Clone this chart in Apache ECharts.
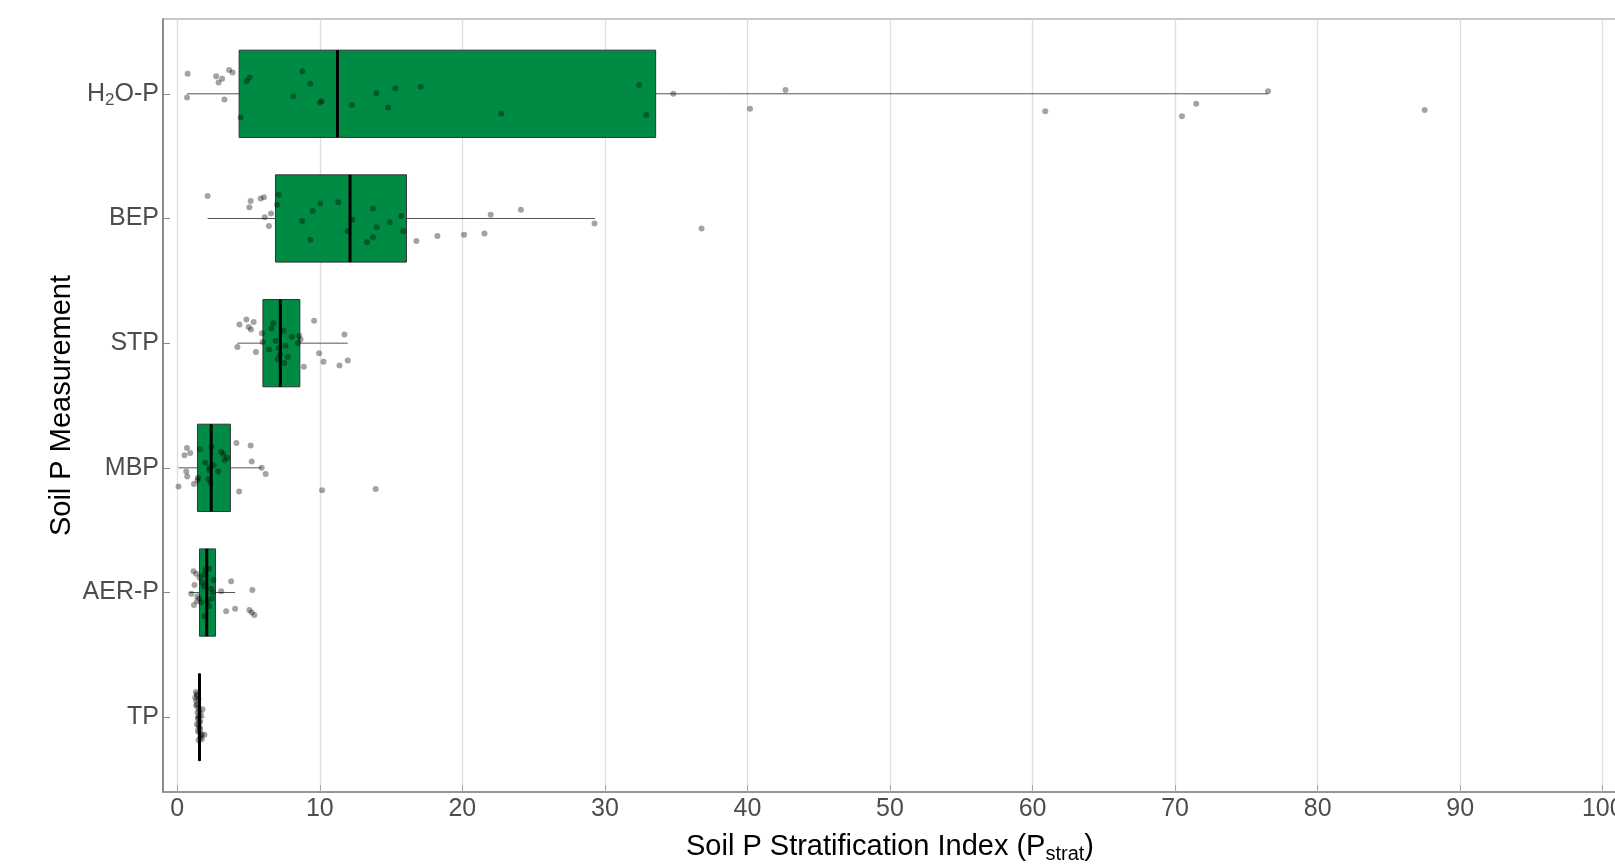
<!DOCTYPE html>
<html>
<head>
<meta charset="utf-8">
<script src="https://cdn.jsdelivr.net/npm/echarts@6/dist/echarts.min.js"></script>
<style>
  html, body { margin: 0; padding: 0; background: #fff; }
  #chart { width: 1615px; height: 867px; }
</style>
</head>
<body>
<div id="chart"></div>
<script>
// Soil P stratification index by measurement: boxplot + jittered points

var categories = ['H2O-P', 'BEP', 'STP', 'MBP', 'AER-P', 'TP'];
var xTicks = [0, 10, 20, 30, 40, 50, 60, 70, 80, 90, 100];

// [lower whisker, Q1, median, Q3, upper whisker]
var boxStats = [
    [0.69, 4.34, 11.24, 33.56, 76.52],
    [2.13, 6.89, 12.12, 16.08, 29.3],
    [4.22, 6.01, 7.23, 8.60, 11.96],
    [0.09, 1.42, 2.38, 3.73, 5.92],
    [0.86, 1.56, 2.07, 2.68, 4.06],
    [1.3, 1.53, 1.56, 1.59, 1.9]
];

// points: [value, vertical jitter]
var h2opPoints = [
    [0.73, -0.16], [0.69, 0.03], [2.73, -0.14], [2.9, -0.09], [3.15, -0.12],
    [3.64, -0.19], [3.88, -0.17], [3.31, 0.045], [4.44, 0.19], [4.86, -0.10],
    [5.08, -0.13], [8.78, -0.18], [9.33, -0.08], [8.15, 0.02], [10.0, 0.07],
    [10.14, 0.06], [12.24, 0.09], [13.97, -0.005], [15.3, -0.045], [14.8, 0.11],
    [17.08, -0.056], [22.73, 0.16], [32.4, -0.07], [32.9, 0.17], [34.8, 0.0],
    [42.67, -0.03], [40.18, 0.12], [60.89, 0.14], [70.48, 0.18], [71.48, 0.08],
    [76.52, -0.02], [87.51, 0.13]
];
var bepPoints = [
    [2.13, -0.18], [5.06, -0.09], [5.15, -0.14], [5.85, -0.16], [6.08, -0.17],
    [6.14, -0.01], [6.58, -0.04], [6.43, 0.06], [7.0, -0.11], [7.12, -0.19],
    [8.76, 0.02], [9.33, 0.17], [9.51, -0.06], [10.03, -0.12], [11.3, -0.13],
    [11.95, 0.10], [12.28, 0.01], [13.31, 0.19], [13.73, -0.08], [13.73, 0.15],
    [13.99, 0.07], [14.9, 0.03], [15.72, -0.02], [15.85, 0.10], [16.78, 0.18],
    [18.25, 0.14], [20.12, 0.13], [21.55, 0.12], [21.99, -0.03], [24.11, -0.07],
    [29.27, 0.04], [36.78, 0.08]
];
var stpPoints = [
    [4.22, 0.03], [4.36, -0.15], [4.85, -0.19], [5.01, -0.13], [5.17, -0.11],
    [5.36, -0.17], [5.52, 0.07], [5.94, -0.08], [5.99, -0.01], [6.43, 0.05],
    [6.6, -0.12], [6.74, -0.16], [6.9, -0.02], [7.02, 0.13], [7.11, 0.04],
    [7.2, 0.09], [7.46, -0.10], [7.5, 0.16], [7.58, 0.02], [7.76, 0.11],
    [8.04, -0.05], [8.46, 0.0], [8.56, -0.06], [8.65, -0.03], [8.88, 0.19],
    [9.6, -0.18], [9.95, 0.08], [10.26, 0.15], [11.38, 0.18], [11.73, -0.07],
    [11.96, 0.14]
];
var mbpPoints = [
    [0.09, 0.15], [0.68, -0.16], [0.51, -0.10], [0.91, -0.12], [0.63, 0.03],
    [0.70, 0.07], [1.17, 0.13], [1.45, 0.08], [1.42, 0.10], [1.59, -0.15],
    [1.96, -0.04], [2.19, 0.09], [2.26, 0.02], [2.33, 0.12], [2.40, -0.17],
    [2.54, -0.02], [2.26, 0.0], [2.87, 0.03], [3.08, -0.13], [3.22, -0.11],
    [3.33, -0.06], [3.5, -0.08], [4.15, -0.20], [4.34, 0.19], [5.15, -0.18],
    [5.22, -0.05], [5.92, 0.0], [6.2, 0.05], [10.16, 0.18], [13.92, 0.17]
];
var aerpPoints = [
    [1.14, -0.17], [1.33, -0.15], [1.21, -0.06], [0.98, 0.01], [1.40, 0.03],
    [1.54, 0.05], [1.17, 0.10], [1.38, 0.07], [1.68, 0.08], [1.56, -0.12],
    [1.73, -0.08], [1.87, -0.05], [1.98, -0.18], [2.22, -0.19], [2.10, 0.07],
    [2.22, 0.11], [1.91, 0.19], [2.38, -0.03], [2.42, 0.05], [2.54, -0.10],
    [2.50, 0.0], [3.08, -0.01], [3.43, 0.15], [3.78, -0.09], [4.06, 0.13],
    [5.06, 0.14], [5.27, -0.02], [5.22, 0.16], [5.41, 0.18], [1.84, -0.14]
];
var tpPoints = [
    [1.31, -0.203], [1.38, -0.184], [1.26, -0.157], [1.33, -0.131], [1.38, -0.104],
    [1.49, -0.077], [1.77, -0.064], [1.42, -0.037], [1.54, -0.011], [1.45, 0.016],
    [1.56, 0.043], [1.49, 0.069], [1.61, 0.096], [1.54, 0.123], [1.72, 0.136],
    [1.91, 0.141], [1.61, 0.163], [1.72, 0.176], [1.49, 0.184], [1.38, -0.171],
    [1.33, -0.091], [1.54, -0.051], [1.66, -0.024], [1.47, 0.003], [1.61, 0.029],
    [1.38, 0.056], [1.56, 0.083], [1.45, 0.109], [1.66, 0.149], [1.49, -0.144]
];
var pointGroups = [h2opPoints, bepPoints, stpPoints, mbpPoints, aerpPoints, tpPoints];

var boxHalf = 0.35;
var fontName = 'Liberation Sans';

var chart = echarts.init(document.getElementById('chart'));

function renderBox(params, api) {
    var cat = api.value(0);
    var lo = api.coord([api.value(1), cat]);
    var q1 = api.coord([api.value(2), cat]);
    var md = api.coord([api.value(3), cat]);
    var q3 = api.coord([api.value(4), cat]);
    var hi = api.coord([api.value(5), cat]);
    var half = api.size([0, boxHalf])[1];
    return {
        type: 'group',
        children: [
            { type: 'line', shape: { x1: lo[0], y1: lo[1], x2: hi[0], y2: hi[1] },
              style: { stroke: '#555', lineWidth: 1 } },
            { type: 'rect', shape: { x: q1[0], y: q1[1] - half, width: q3[0] - q1[0], height: 2 * half },
              style: { fill: '#008B45', stroke: '#333', lineWidth: 1 } },
            { type: 'line', shape: { x1: md[0], y1: md[1] - half, x2: md[0], y2: md[1] + half },
              style: { stroke: '#000', lineWidth: 3 } }
        ]
    };
}

var scatterData = [];
pointGroups.forEach(function (pts, i) {
    pts.forEach(function (p) {
        scatterData.push([p[0], i + p[1]]);
    });
});

var option = {
    backgroundColor: '#fff',
    animation: false,
    grid: {
        left: 163,
        top: 19,
        right: -2,
        bottom: 75,
        outerBoundsMode: 'none',
        containLabel: false,
        show: true,
        borderColor: '#b5b5b5',
        borderWidth: 1.5
    },
    xAxis: {
        type: 'value',
        min: -1,
        max: 101,
        splitNumber: 10,
        name: 'Soil P Stratification Index (P{sub|strat})',
        nameLocation: 'middle',
        nameGap: 38,
        nameMoveOverlap: false,
        nameTextStyle: {
            fontFamily: fontName, fontSize: 29, color: '#000', lineHeight: 34,
            rich: { sub: { fontFamily: fontName, fontSize: 20, color: '#000', verticalAlign: 'bottom', lineHeight: 20 } }
        },
        axisLine: { show: true, onZero: false, lineStyle: { color: '#888', width: 1.5 } },
        axisTick: { show: true, inside: true, length: 7, customValues: xTicks, lineStyle: { color: '#aaa' } },
        axisLabel: {
            customValues: xTicks,
            fontFamily: fontName, fontSize: 25, color: '#4d4d4d', margin: 5
        },
        splitLine: { show: true, lineStyle: { color: '#dedede', width: 1.3 } }
    },
    yAxis: {
        type: 'value',
        min: -0.6,
        max: 5.6,
        inverse: true,
        name: 'Soil P Measurement',
        nameLocation: 'middle',
        nameGap: 87,
        nameMoveOverlap: false,
        nameTextStyle: { fontFamily: fontName, fontSize: 29, color: '#000' },
        axisLine: { show: true, onZero: false, lineStyle: { color: '#777', width: 1.5 } },
        axisTick: { show: true, inside: true, length: 7, customValues: [0, 1, 2, 3, 4, 5], lineStyle: { color: '#888' } },
        axisLabel: {
            customValues: [0, 1, 2, 3, 4, 5],
            fontFamily: fontName, fontSize: 25, color: '#4d4d4d', margin: 4, lineHeight: 30,
            formatter: function (v) {
                var name = categories[Math.round(v)];
                if (name === 'H2O-P') return 'H{sub|2}O-P';
                return name;
            },
            rich: { sub: { fontFamily: fontName, fontSize: 17, color: '#4d4d4d', verticalAlign: 'bottom', lineHeight: 20 } }
        },
        splitLine: { show: false }
    },
    series: [
        {
            type: 'custom',
            renderItem: renderBox,
            data: boxStats.map(function (s, i) { return [i].concat(s); }),
            encode: { x: [1, 2, 3, 4, 5], y: 0 },
            z: 2
        },
        {
            type: 'scatter',
            data: scatterData,
            symbolSize: 6,
            itemStyle: { color: 'rgba(0,0,0,0.45)' },
            z: 3
        }
    ]
};

chart.setOption(option);
</script>
</body>
</html>
